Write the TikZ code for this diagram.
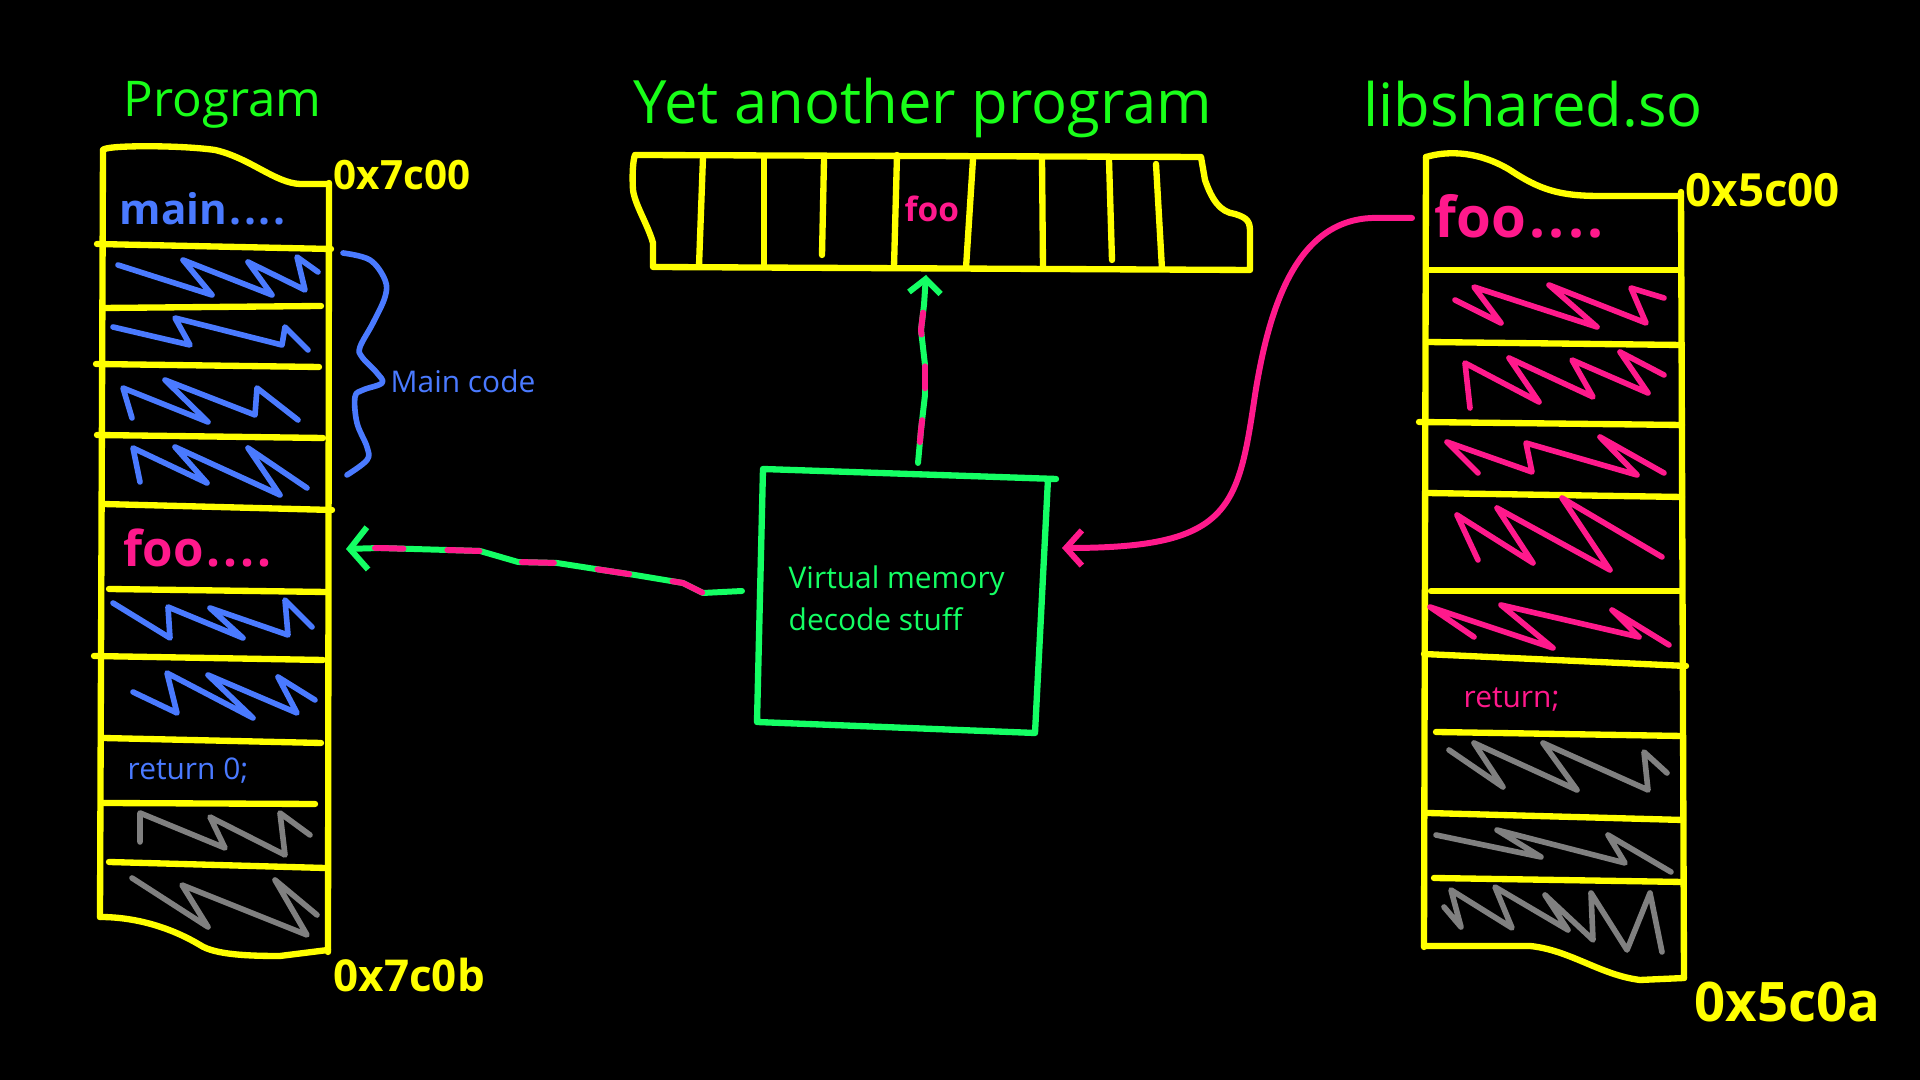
\documentclass[tikz,border=0pt]{standalone}
\usepackage{fontspec}
\setmainfont{Open Sans}
\usepackage{tikz}
\usetikzlibrary{arrows.meta}
\definecolor{memyellow}{RGB}{255,255,0}
\definecolor{titlegreen}{RGB}{25,255,25}
\definecolor{vmgreen}{RGB}{20,255,100}
\definecolor{hotpink}{RGB}{255,25,140}
\definecolor{codeblue}{RGB}{74,122,255}
\definecolor{junkgrey}{RGB}{128,128,128}

\begin{document}
\begin{tikzpicture}[x=0.01cm, y=-0.01cm, line join=round, line cap=round,
			every node/.style = {inner sep=0pt, anchor=base west},
			wall/.style = {draw=memyellow, line width=1.8pt},
			zigblue/.style = {draw=codeblue, line width=1.6pt},
			zigpink/.style = {draw=hotpink, line width=1.6pt},
			ziggrey/.style = {draw=junkgrey, line width=1.6pt},
			title/.style = {text=titlegreen, font={\fontsize{17}{20}\selectfont}},
			hand/.style = {font={\bfseries\fontsize{13}{15}\selectfont}},
			note/.style = {font={\fontsize{8.5}{12}\selectfont}},
			link/.style = {draw=vmgreen, line width=1.7pt},
			pinkdash/.style = {draw=hotpink, line width=1.7pt}]
			\fill[black] (0,0) rectangle (1920,1080);
			\useasboundingbox (0,0) rectangle (1920,1080);

			\node[title, font={\fontsize{14}{16}\selectfont}] (progtitle) at (123,117) {Program};
			\node[title] (yaptitle) at (633,124) {Yet another program};
			\node[title] (libtitle) at (1363,127) {libshared.so};

			\draw[wall] (103,150) .. controls (105,145) and (180,145) .. (215,150) .. controls (250,158) and (275,183) .. (300,184) -- (329,184);
			\draw[wall] (103,150) -- (100,917);
			\draw[wall] (329,183) -- (328,952);
			\draw[wall] (100,917) .. controls (140,917) and (175,930) .. (200,945) .. controls (215,955) and (250,956) .. (280,956) -- (328,950);
			\draw[wall] (97,244) -- (331,249);
			\draw[wall] (103,308) -- (321,306);
			\draw[wall] (96,364) -- (319,367);
			\draw[wall] (97,435) -- (323,438);
			\draw[wall] (103,504) -- (332,510);
			\draw[wall] (109,589) -- (326,592);
			\draw[wall] (94,656) -- (323,660);
			\draw[wall] (103,738) -- (321,743);
			\draw[wall] (103,803) -- (315,804);
			\draw[wall] (109,862) -- (325,868);

			\node[hand, text=memyellow, font={\bfseries\fontsize{11.5}{14}\selectfont}] (progtop) at (333,190) {0x7c00};
			\node[hand, text=memyellow, font={\bfseries\fontsize{12.5}{15}\selectfont}] (progend) at (333,992) {0x7c0b};
			\node[hand, text=codeblue, font={\bfseries\fontsize{12}{14}\selectfont}] (progmain) at (119,225) {main\kern.06em.\kern.06em.\kern.06em.\kern.06em.};
			\node[hand, text=hotpink, font={\bfseries\fontsize{14}{17}\selectfont}] (progfoo) at (123,567) {foo\kern.06em.\kern.06em.\kern.06em.\kern.06em.};
			\node[note, text=codeblue] (progret) at (127,780) {return 0;};

			\draw[zigblue] (118,265) -- (212,295) -- (183,260) -- (272,295) -- (248,262) -- (305,290) -- (297,257) -- (318,272);
			\draw[zigblue] (113,327) -- (190,345) -- (175,318) -- (282,345) -- (285,327) -- (308,350);
			\draw[zigblue] (132,418) -- (123,388) -- (208,422) -- (165,380) -- (255,415) -- (257,388) -- (298,420);
			\draw[zigblue] (140,482) -- (133,448) -- (207,483) -- (175,447) -- (280,495) -- (248,448) -- (307,488);
			\draw[zigblue] (113,603) -- (170,638) -- (168,607) -- (243,638) -- (210,608) -- (288,635) -- (285,600) -- (312,627);
			\draw[zigblue] (133,692) -- (177,713) -- (167,673) -- (253,718) -- (208,675) -- (297,713) -- (278,677) -- (315,700);
			\draw[ziggrey] (140,842) -- (140,813) -- (225,848) -- (210,817) -- (285,855) -- (280,813) -- (310,835);
			\draw[ziggrey] (132,878) -- (208,927) -- (182,885) -- (307,935) -- (275,880) -- (317,915);

			\draw[zigblue] plot[smooth, tension=0.6] coordinates {(343,253) (370,260) (385,280) (385,297) (373,323) (360,347) (362,357) (377,373) (382,383) (363,390) (355,397) (357,423) (367,447) (367,460) (347,475)};
			\node[note, text=codeblue] (maincode) at (390,393) {Main code};

			\draw[wall] (635,155) -- (1201,157) -- (1205,180) .. controls (1212,200) and (1220,212) .. (1235,214) .. controls (1248,218) and (1250,222) .. (1250,232) -- (1250,270) -- (653,267) -- (653,243) .. controls (648,225) and (635,205) .. (633,190) .. controls (632,175) and (633,160) .. (635,155);
			\draw[wall] (703,157) -- (699,266);
			\draw[wall] (764,157) -- (764,267);
			\draw[wall] (824,160) -- (822,255);
			\draw[wall] (897,155) -- (894,267);
			\draw[wall] (973,159) -- (966,268);
			\draw[wall] (1042,159) -- (1043,268);
			\draw[wall] (1109,160) -- (1112,260);
			\draw[wall] (1156,164) -- (1162,269);
			\node[hand, text=hotpink, font={\bfseries\fontsize{9.5}{12}\selectfont}] (stripfoo) at (904,222) {foo};

			\draw[wall] (1426,157) .. controls (1450,150) and (1480,152) .. (1510,170) .. controls (1540,190) and (1560,196) .. (1600,196) -- (1681,196);
			\draw[wall] (1426,157) -- (1424,947);
			\draw[wall] (1681,192) -- (1684,978);
			\draw[wall] (1424,946) -- (1530,946) .. controls (1570,950) and (1600,975) .. (1640,980) -- (1684,978);
			\draw[wall] (1426,270) -- (1681,270);
			\draw[wall] (1426,342) -- (1682,345);
			\draw[wall] (1419,422) -- (1682,425);
			\draw[wall] (1426,493) -- (1682,497);
			\draw[wall] (1431,591) -- (1682,591);
			\draw[wall] (1424,654) -- (1686,666);
			\draw[wall] (1436,732) -- (1682,736);
			\draw[wall] (1428,813) -- (1683,820);
			\draw[wall] (1434,878) -- (1683,882);

			\node[hand, text=memyellow] (libtop) at (1685,207) {0x5c00};
			\node[hand, text=memyellow, font={\bfseries\fontsize{15.5}{18}\selectfont}] (libend) at (1694,1022) {0x5c0a};
			\node[hand, text=hotpink, font={\bfseries\fontsize{16}{19}\selectfont}] (libfoo) at (1434,238) {foo\kern.06em.\kern.06em.\kern.06em.\kern.06em.};
			\node[note, text=hotpink] (libret) at (1463,708) {return;};

			\draw[zigpink] (1455,300) -- (1501,323) -- (1474,287) -- (1597,327) -- (1549,285) -- (1646,323) -- (1631,288) -- (1664,298);
			\draw[zigpink] (1470,408) -- (1465,363) -- (1539,402) -- (1509,358) -- (1593,397) -- (1572,360) -- (1648,393) -- (1620,352) -- (1664,375);
			\draw[zigpink] (1478,473) -- (1447,442) -- (1532,472) -- (1526,443) -- (1637,475) -- (1600,437) -- (1664,473);
			\draw[zigpink] (1478,560) -- (1457,515) -- (1533,563) -- (1497,508) -- (1610,570) -- (1562,498) -- (1662,557);
			\draw[zigpink] (1669,645) -- (1612,610) -- (1639,637) -- (1501,605) -- (1553,648) -- (1430,607) -- (1474,637);
			\draw[ziggrey] (1449,750) -- (1503,787) -- (1474,743) -- (1577,790) -- (1543,743) -- (1648,790) -- (1644,752) -- (1667,773);
			\draw[ziggrey] (1436,835) -- (1541,857) -- (1497,830) -- (1625,863) -- (1608,835) -- (1671,872);
			\draw[ziggrey] (1444,907) -- (1461,927) -- (1451,890) -- (1512,928) -- (1495,887) -- (1568,930) -- (1545,895) -- (1593,940) -- (1591,893) -- (1627,950) -- (1650,893) -- (1662,952);

			\draw[draw=vmgreen, line width=1.8pt] (763,469) -- (1056,479) (1048,479) -- (1035,733) -- (757,722) -- (763,469);
			\node[note, text=vmgreen, align=left, anchor=west] (vm) at (788,598) {Virtual memory\\decode stuff};

			\coordinate (vmtop) at (918,463);
			\coordinate (vmleft) at (742,591);
			\coordinate (vmright) at (1062,548);
			\coordinate (stripin) at (926,275);
			\coordinate (progin) at (346,549);
			\coordinate (libout) at (1412,218);

			\draw[link, -{Straight Barb[length=4pt, width=9pt]}] (vmtop) -- (921,430) -- (925,395) -- (925,365) -- (921,330) -- (924,305) -- (stripin);
			\draw[pinkdash, dash pattern=on 0.22cm off 0.32cm, dash phase=0.33cm] (vmtop) -- (921,430) -- (925,395) -- (925,365) -- (921,330) -- (924,305) -- (926,295);
			\draw[link, -{Straight Barb[length=5pt, width=12pt]}] (vmleft) -- (703,593) -- (683,583) -- (635,575) -- (602,570) -- (557,563) -- (518,562) -- (480,551) -- (447,550) -- (380,548) -- (progin);
			\draw[pinkdash, dash pattern=on 0.32cm off 0.44cm, dash phase=0.36cm] (vmleft) -- (703,593) -- (683,583) -- (635,575) -- (602,570) -- (557,563) -- (518,562) -- (480,551) -- (447,550) -- (380,548) -- (375,548);
			\draw[pinkdash, -{Straight Barb[length=4.5pt, width=10pt]}] (libout) -- (1380,218) .. controls (1300,215) and (1270,300) .. (1255,395) .. controls (1238,510) and (1230,548) .. (vmright);
\end{tikzpicture}
\end{document}
